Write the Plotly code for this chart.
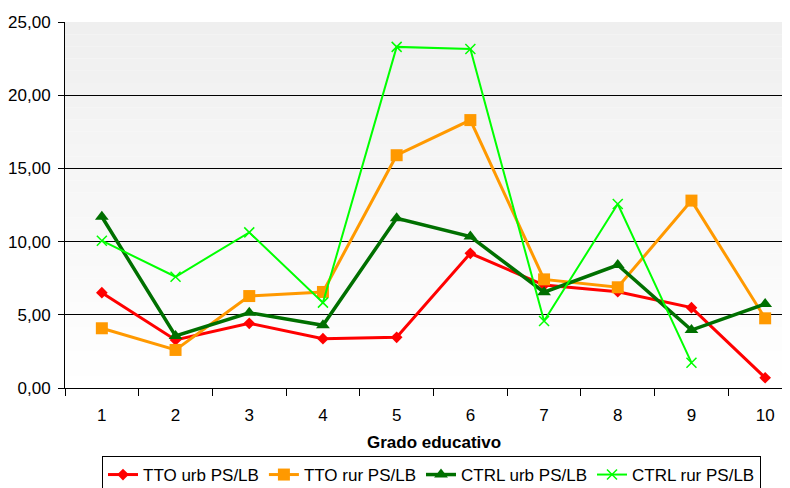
import plotly.graph_objects as go

grades = [1, 2, 3, 4, 5, 6, 7, 8, 9, 10]
tto_urb = [6.51, 3.28, 4.42, 3.37, 3.46, 9.20, 7.03, 6.58, 5.49, 0.70]
tto_rur = [4.08, 2.60, 6.28, 6.56, 15.90, 18.30, 7.42, 6.88, 12.80, 4.76]
ctrl_urb = [11.70, 3.55, 5.14, 4.28, 11.60, 10.34, 6.54, 8.40, 3.96, 5.74]
ctrl_rur = [10.06, 7.60, 10.63, 5.83, 23.30, 23.15, 4.58, 12.57, 1.73, None]

y_ticks = [0, 5, 10, 15, 20, 25]
y_ticktext = ["0,00", "5,00", "10,00", "15,00", "20,00", "25,00"]

FONT = "Liberation Sans, Arial, sans-serif"

fig = go.Figure()
fig.add_trace(go.Scatter(x=grades, y=tto_urb, name="TTO urb PS/LB", mode="lines+markers",
                         line=dict(color="#FF0000", width=3),
                         marker=dict(symbol="diamond", size=9, color="#FF0000")))
fig.add_trace(go.Scatter(x=grades, y=tto_rur, name="TTO rur PS/LB", mode="lines+markers",
                         line=dict(color="#FF9900", width=3),
                         marker=dict(symbol="square", size=12, color="#FF9900")))
fig.add_trace(go.Scatter(x=grades, y=ctrl_urb, name="CTRL urb PS/LB", mode="lines+markers",
                         line=dict(color="#007000", width=3.5),
                         marker=dict(symbol="triangle-up", size=12, color="#007000")))
fig.add_trace(go.Scatter(x=grades, y=ctrl_rur, name="CTRL rur PS/LB", mode="lines+markers",
                         line=dict(color="#00FF00", width=2),
                         marker=dict(symbol="x-thin", size=10, color="#00FF00",
                                     line=dict(color="#00FF00", width=1.5))))

# background gradient bands (gray at top fading to white)
shapes = []
n = 30
for i in range(n):
    y0 = 25 * i / n
    y1 = 25 * (i + 1) / n
    t = (i + 0.5) / n
    g = int(round(255 - (255 - 239) * t))
    shapes.append(dict(type="rect", xref="paper", yref="y", x0=0, x1=1, y0=y0, y1=y1,
                       fillcolor=f"rgb({g},{g},{g})", line=dict(width=0), layer="below"))

fig.update_layout(
    width=790, height=488,
    margin=dict(l=57, r=8, t=14, b=108, autoexpand=False),
    paper_bgcolor="white", plot_bgcolor="white",
    font=dict(family=FONT, size=17, color="black"),
    shapes=shapes,
    showlegend=True,
    legend=dict(orientation="h", x=94 / 790, xref="container", y=1 - 448 / 488, yref="container",
                xanchor="left", yanchor="top",
                bordercolor="black", borderwidth=1, bgcolor="white",
                font=dict(family=FONT, size=17), itemwidth=30,
                tracegroupgap=0),
    xaxis=dict(range=[0.5, 10.337], tickvals=grades, ticktext=[str(g) for g in grades],
               ticks="", showgrid=False, zeroline=False, showline=True,
               linecolor="black", linewidth=1, automargin=False,
               minor=dict(ticks="outside", tick0=0.5, dtick=1, ticklen=7,
                          tickcolor="black", tickwidth=1, showgrid=False),
               tickfont=dict(size=17), ticklabelstandoff=12),
    yaxis=dict(range=[0, 25], tickvals=y_ticks, ticktext=y_ticktext,
               ticks="outside", ticklen=6, tickcolor="black",
               showgrid=True, gridcolor="black", gridwidth=1,
               zeroline=False, showline=True, linecolor="black", linewidth=1,
               automargin=False,
               tickfont=dict(size=17), ticklabelstandoff=4),
    annotations=[dict(text="<b>Grado educativo</b>", x=5.5, xref="x", y=-0.15, yref="paper",
                      xanchor="center", yanchor="middle", showarrow=False,
                      font=dict(family=FONT, size=17))],
)

fig.write_html("out.html")
